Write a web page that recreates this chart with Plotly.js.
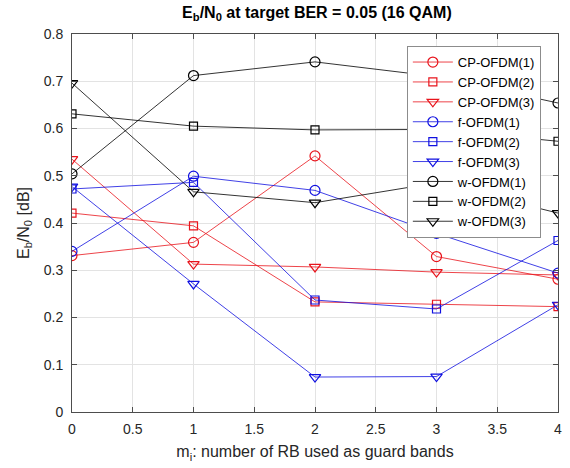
<!DOCTYPE html>
<html>
<head>
<meta charset="utf-8">
<script src="https://cdn.plot.ly/plotly-3.0.1.min.js"></script>
<style>html,body{margin:0;padding:0;background:#fff}#chart{width:570px;height:468px}</style>
</head>
<body>
<div id="chart"></div>
<script>
const guardRB = [0, 1, 2, 3, 4];
const cpOfdm1 = [0.331, 0.359, 0.542, 0.329, 0.281];
const cpOfdm2 = [0.421, 0.394, 0.233, 0.228, 0.223];
const cpOfdm3 = [0.535, 0.313, 0.307, 0.296, 0.290];
const fOfdm1 = [0.340, 0.499, 0.469, 0.378, 0.294];
const fOfdm2 = [0.472, 0.486, 0.237, 0.218, 0.363];
const fOfdm3 = [0.477, 0.271, 0.074, 0.075, 0.227];
const wOfdm1 = [0.504, 0.712, 0.741, 0.710, 0.654];
const wOfdm2 = [0.631, 0.605, 0.597, 0.598, 0.573];
const wOfdm3 = [0.696, 0.466, 0.443, 0.485, 0.421];
const seriesNames = ['CP-OFDM(1)','CP-OFDM(2)','CP-OFDM(3)','f-OFDM(1)','f-OFDM(2)','f-OFDM(3)','w-OFDM(1)','w-OFDM(2)','w-OFDM(3)'];
const seriesValues = [cpOfdm1, cpOfdm2, cpOfdm3, fOfdm1, fOfdm2, fOfdm3, wOfdm1, wOfdm2, wOfdm3];
const colors = ['#e8141c','#e8141c','#e8141c','#1010e0','#1010e0','#1010e0','#000000','#000000','#000000'];
const symbols = ['circle-open','square-open','triangle-down-open'];

const traces = seriesValues.map((vals, i) => ({
  x: guardRB, y: vals, name: seriesNames[i], type: 'scatter', mode: 'lines+markers',
  line: {color: colors[i], width: 0.8},
  marker: {symbol: symbols[i % 3], size: i % 3 === 1 ? 8 : 10, color: colors[i], line: {width: 1.2, color: colors[i]}}
}));

const FONT = 'Liberation Sans, Arial, sans-serif';
const axisCommon = {
  showline: true, linecolor: '#4d4d4d', linewidth: 1, mirror: 'ticks',
  ticks: 'inside', ticklen: 5, tickcolor: '#4d4d4d',
  showgrid: true, gridcolor: '#e3e3e3', gridwidth: 1, zeroline: false,
  tickfont: {family: FONT, size: 14, color: '#262626'}
};

const layout = {
  width: 570, height: 468,
  margin: {l: 72, r: 12, t: 34, b: 56},
  paper_bgcolor: '#fff', plot_bgcolor: '#fff',
  title: {text: '<b>E<sub>b</sub>/N<sub>0</sub> at target BER = 0.05 (16 QAM)</b>',
    font: {family: FONT, size: 16, color: '#000'},
    x: 0.556, xanchor: 'center', y: 0.986, yanchor: 'top'},
  xaxis: Object.assign({}, axisCommon, {range: [0, 4], dtick: 0.5, ticklabelstandoff: 4,
    title: {text: 'm<sub>i</sub>: number of RB used as guard bands', standoff: 10,
      font: {family: FONT, size: 16, color: '#262626'}}}),
  yaxis: Object.assign({}, axisCommon, {range: [0, 0.8], dtick: 0.1, ticklabelstandoff: 5,
    title: {text: 'E<sub>b</sub>/N<sub>0</sub> [dB]', standoff: 10,
      font: {family: FONT, size: 16, color: '#262626'}}}),
  showlegend: true,
  legend: {x: 0.689, y: 0.968, xanchor: 'left', yanchor: 'top',
    bgcolor: '#fff', bordercolor: '#8c8c8c', borderwidth: 1,
    font: {family: FONT, size: 13, color: '#000'},
    tracegroupgap: 0, itemwidth: 40}
};

Plotly.newPlot('chart', traces, layout, {displayModeBar: false, staticPlot: true});
</script>
</body>
</html>
